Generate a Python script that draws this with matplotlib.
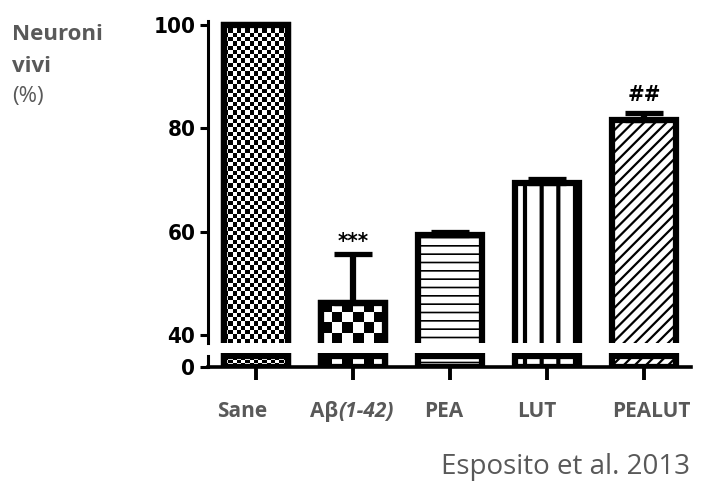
import numpy as np
import matplotlib
matplotlib.use('Agg')
import matplotlib.pyplot as plt
from matplotlib import font_manager

# data
groups = ['Sane', 'Aβ', 'PEA', 'LUT', 'PEALUT']
means = [100.0, 46.2, 59.3, 69.4, 81.7]
errs = [0.0, 9.4, 0.6, 0.8, 1.2]
marks = ['', '***', '', '', '##']
y_ticks_top = [40, 60, 80, 100]

GREY = '#595959'
names = {f.name for f in font_manager.fontManager.ttflist}
tick_font = 'Liberation Sans Narrow' if 'Liberation Sans Narrow' in names else 'DejaVu Sans'
label_font = 'Open Sans'
tick_kw = dict(fontfamily=tick_font, fontweight='bold', fontstretch='condensed', fontsize=16)

W, H = 705, 484
fig = plt.figure(figsize=(W / 100, H / 100), dpi=100)

def frac(px_left, px_top, px_right, px_bottom):
    return [px_left / W, 1 - px_bottom / H, (px_right - px_left) / W, (px_bottom - px_top) / H]

ax_top = fig.add_axes(frac(208, 21, 690.6, 343))
ax_bot = fig.add_axes(frac(208, 353, 690.6, 367))

x = np.arange(len(groups))
xlim = (-0.495, 4.48)
bar_w = 0.657
edge_lw = 4.5
hatches = [None, None, '--', '|', '///']
hatch_lws = [1, 1, 1.2, 3.0, 1.6]
checker = {0: (0.0443, 0.83), 1: (0.113, 2.13)}  # cell size in data units (x, y)
break_top = 2.1  # lower segment of each bar is closed just under the axis break

for ax, ylim, cut in [(ax_top, (38.45, 100.77), None), (ax_bot, (0, 2.7), break_top)]:
    heights = list(means) if cut is None else list(np.minimum(means, cut))
    for i in range(len(groups)):
        with plt.rc_context({'hatch.linewidth': hatch_lws[i]}):
            b = ax.bar(x[i], heights[i], width=bar_w, color='white', edgecolor='black',
                       linewidth=edge_lw, hatch=hatches[i], zorder=2)[0]
        if i in checker:
            cw, ch = checker[i]
            x0, x1 = x[i] - bar_w / 2, x[i] + bar_w / 2
            y0, y1 = ylim[0], min(heights[i], ylim[1])
            nx = max(1, int(round((x1 - x0) / cw)))
            ny = max(1, int(round((y1 - y0) / ch)))
            ii, jj = np.indices((ny, nx))
            img = ((ii + jj) % 2).astype(float)
            ax.imshow(img, extent=(x0, x1, y0, y1), origin='upper', cmap='gray',
                      vmin=0, vmax=1, aspect='auto', interpolation='nearest', zorder=2.5)
            ax.bar(x[i], heights[i], width=bar_w, facecolor='none', edgecolor='black',
                   linewidth=edge_lw, zorder=3)
    ax.set_xlim(*xlim)
    ax.set_ylim(*ylim)
    for s in ['top', 'right']:
        ax.spines[s].set_visible(False)
    ax.spines['left'].set_linewidth(2.2)
    ax.spines['bottom'].set_linewidth(2.6)
    ax.tick_params(axis='y', direction='out', length=6, width=2.2, pad=3)
    ax.tick_params(axis='x', direction='out', length=9, width=2.8)

ax_top.spines['bottom'].set_visible(False)
ax_top.set_xticks([])
ax_top.set_yticks(y_ticks_top)
ax_top.set_yticklabels([str(v) for v in y_ticks_top], **tick_kw)
ax_bot.set_yticks([0])
ax_bot.set_yticklabels(['0'], **tick_kw)
ax_bot.set_xticks(x)
ax_bot.set_xticklabels([])
ax_bot.spines['left'].set_bounds(0, 2.2)

# error bars (upper only, groups with an error)
has_err = np.array(errs) > 0
ax_top.errorbar(x[has_err], np.array(means)[has_err],
                yerr=[np.zeros(has_err.sum()), np.array(errs)[has_err]],
                fmt='none', ecolor='black', elinewidth=4.5, capsize=14, capthick=3.8, zorder=4)
mark_offsets = {'***': 2, '##': 6}
for i, m in enumerate(marks):
    if m:
        ax_top.annotate(m, (x[i], means[i] + errs[i]), xytext=(0, mark_offsets[m]),
                        textcoords='offset points', ha='center', va='bottom',
                        annotation_clip=False, **tick_kw)

# category labels (placed as in the figure)
label_px = [242, 310, 444, 537, 651]
for i, g in enumerate(groups):
    ha = 'left' if i == 1 else 'center'
    t = fig.text(label_px[i] / W, 1 - 417 / H, g, ha=ha, va='baseline', fontsize=15,
                 fontweight='bold', color=GREY, fontfamily=label_font)
    if i == 1:
        fig.canvas.draw()
        ax_top.annotate('(1-42)', xy=(1, 0), xycoords=t, va='bottom', ha='left',
                        fontsize=15, fontweight='bold', fontstyle='italic',
                        color=GREY, fontfamily=label_font, annotation_clip=False)

# y label
fig.text(12 / W, 1 - 40 / H, 'Neuroni', fontsize=16, fontweight='bold', color=GREY,
         fontfamily=label_font, va='baseline')
fig.text(12 / W, 1 - 72 / H, 'vivi', fontsize=16, fontweight='bold', color=GREY,
         fontfamily=label_font, va='baseline')
fig.text(12 / W, 1 - 102 / H, '(%)', fontsize=16, color=GREY,
         fontfamily=label_font, va='baseline')

fig.text(690 / W, 1 - 474 / H, 'Esposito et al. 2013', fontsize=20, color=GREY,
         fontfamily=label_font, ha='right', va='baseline')

fig.savefig('out.png', dpi=100)
